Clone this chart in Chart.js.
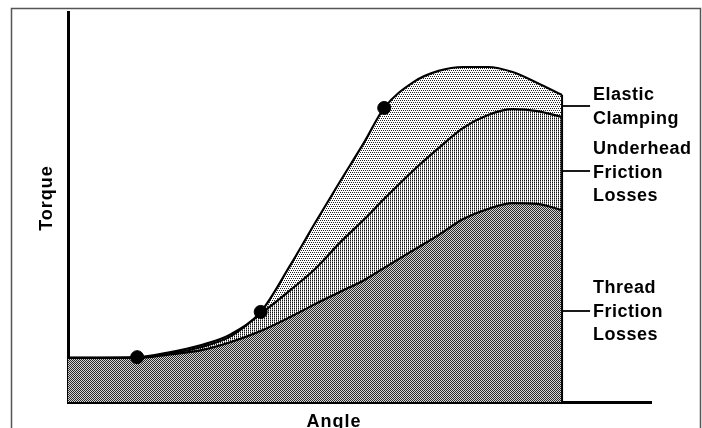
<!DOCTYPE html>
<html>
<head>
<meta charset="utf-8">
<script src="https://cdn.jsdelivr.net/npm/chart.js@4/dist/chart.umd.min.js"></script>
<style>
  html, body { margin: 0; padding: 0; background: #fff; }
  #torqueChart { display: block; }
</style>
</head>
<body>
<canvas id="torqueChart" width="702" height="428"></canvas>
<script>
// Torque vs. angle build-up: cumulative torque at each angle
const angles = [0, 14, 20, 27, 33, 39, 45, 50, 55, 60, 64, 70, 75, 80, 85, 90, 95, 100];
const threadTorque = [11.3, 11.3, 12.1, 13.3, 15.4, 18.2, 21.8, 25.1, 28.2, 31.3, 34.4, 39.0, 42.8, 46.9, 49.5, 51.0, 50.8, 49.2];
const underheadTorque = [11.3, 11.3, 12.3, 14.1, 16.9, 22.6, 28.7, 34.1, 40.8, 46.9, 52.1, 59.5, 65.1, 70.3, 73.6, 75.1, 74.6, 73.1];
const elasticTorque = [11.3, 11.5, 12.6, 14.6, 17.4, 23.1, 35.1, 45.9, 56.4, 66.7, 75.4, 82.1, 84.9, 85.9, 85.9, 84.6, 81.8, 78.7];
const dotAngles = [14, 39, 64];
const dotTorque = [11.5, 23.1, 75.4];

const bandLabels = [
  { lines: ['Elastic', 'Clamping'], leaderY: 106, top: 100 },
  { lines: ['Underhead', 'Friction', 'Losses'], leaderY: 171, top: 154 },
  { lines: ['Thread', 'Friction', 'Losses'], leaderY: 311, top: 293 }
];

const toPoints = (xs, ys) => xs.map((x, i) => ({ x, y: ys[i] }));

// little dither tiles like the old halftone fills
function makePattern(w, h, cells) {
  const c = document.createElement('canvas');
  c.width = w; c.height = h;
  const g = c.getContext('2d');
  g.fillStyle = '#fff';
  g.fillRect(0, 0, w, h);
  cells.forEach(([x, y, col]) => { g.fillStyle = col; g.fillRect(x, y, 1, 1); });
  return g.createPattern(c, 'repeat');
}

const threadFill = makePattern(2, 2, [[0, 0, '#2a2a2a'], [1, 1, '#2a2a2a'], [1, 0, '#d4d4d4'], [0, 1, '#d4d4d4']]);
const underheadFill = makePattern(2, 2, [[0, 0, '#111'], [0, 1, '#8a8a8a']]);
const elasticFill = makePattern(2, 4, [[0, 0, '#222'], [1, 2, '#222']]);

const lastAngle = angles[angles.length - 1];
const lastTop = elasticTorque[elasticTorque.length - 1];

const labelsPlugin = {
  id: 'labels',
  afterDraw(chart) {
    const ctx = chart.ctx;
    const edgeX = chart.scales.x.getPixelForValue(lastAngle);
    ctx.save();

    // outer frame
    ctx.strokeStyle = '#555';
    ctx.lineWidth = 1.5;
    ctx.strokeRect(11.5, 8.5, 689, 430);

    // leader lines + band names
    ctx.strokeStyle = '#000';
    ctx.lineWidth = 1.8;
    ctx.fillStyle = '#000';
    ctx.font = 'bold 18px "Liberation Sans", Arial, sans-serif';
    ctx.letterSpacing = '0.5px';
    ctx.textAlign = 'left';
    ctx.textBaseline = 'alphabetic';
    bandLabels.forEach(b => {
      ctx.beginPath();
      ctx.moveTo(edgeX, b.leaderY);
      ctx.lineTo(edgeX + 28, b.leaderY);
      ctx.stroke();
      b.lines.forEach((t, i) => ctx.fillText(t, 593, b.top + i * 23.5));
    });

    // axis titles
    ctx.letterSpacing = '1px';
    ctx.textAlign = 'center';
    ctx.fillText('Angle', 334, 427);
    ctx.translate(52, 198);
    ctx.rotate(-Math.PI / 2);
    ctx.fillText('Torque', 0, 0);
    ctx.restore();
  }
};

const band = (label, values, pattern, fill) => ({
  label,
  data: toPoints(angles, values),
  borderColor: '#000',
  borderWidth: 2.2,
  backgroundColor: pattern,
  fill,
  pointRadius: 0,
  cubicInterpolationMode: 'monotone',
  order: 2
});

new Chart(document.getElementById('torqueChart'), {
  type: 'line',
  data: {
    datasets: [
      band('Thread Friction Losses', threadTorque, threadFill, 'origin'),
      band('Underhead Friction Losses', underheadTorque, underheadFill, '-1'),
      band('Elastic Clamping', elasticTorque, elasticFill, '-1'),
      {
        label: 'edge',
        data: [{ x: lastAngle, y: 0 }, { x: lastAngle, y: lastTop }],
        borderColor: '#000',
        borderWidth: 2,
        fill: false,
        pointRadius: 0,
        order: 1
      },
      {
        type: 'scatter',
        label: 'points',
        data: toPoints(dotAngles, dotTorque),
        backgroundColor: '#000',
        borderColor: '#000',
        pointRadius: 6.5,
        showLine: false,
        clip: false,
        order: 0
      }
    ]
  },
  options: {
    responsive: false,
    animation: false,
    events: [],
    layout: { padding: { left: 68, right: 51, top: 12, bottom: 26 } },
    plugins: {
      legend: { display: false },
      tooltip: { enabled: false }
    },
    scales: {
      x: {
        type: 'linear',
        min: 0,
        max: 118,
        z: 1,
        grid: { display: false, drawTicks: false },
        ticks: { display: false },
        border: { display: true, color: '#000', width: 3 }
      },
      y: {
        min: 0,
        max: 100,
        z: 1,
        grid: { display: false, drawTicks: false },
        ticks: { display: false },
        border: { display: true, color: '#000', width: 3 }
      }
    }
  },
  plugins: [labelsPlugin]
});
</script>
</body>
</html>
